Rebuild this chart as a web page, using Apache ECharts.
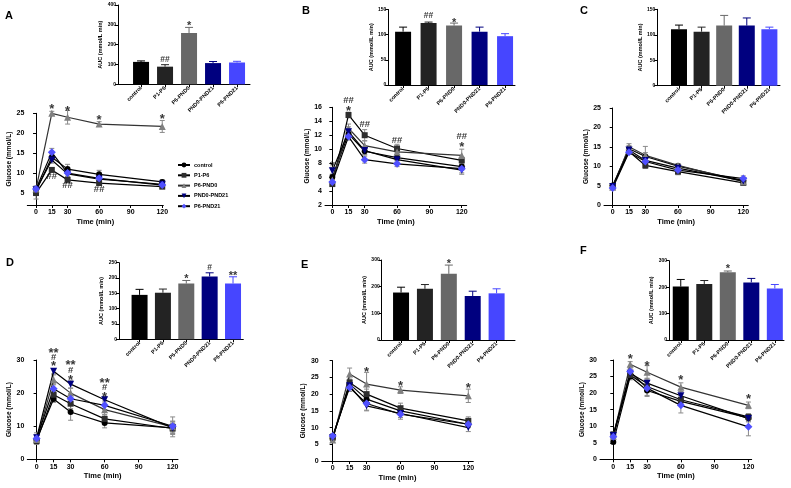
<!DOCTYPE html>
<html><head><meta charset="utf-8">
<script src="https://cdn.jsdelivr.net/npm/echarts@6/dist/echarts.min.js"></script>
<style>html,body{margin:0;padding:0;background:#fff}#c{width:791px;height:488px}</style>
</head><body><div id="c"></div>
<script>
// ---------- data ----------
const times = [0, 15, 30, 60, 120];
const timeTicks = [0, 15, 30, 60, 90, 120];
const groups = ['control', 'P1-P6', 'P6-PND0', 'PND0-PND21', 'P6-PND21'];

// Panel A
const A_mean = [[5.5,14.0,11.0,9.7,7.8],[5.0,10.8,8.3,7.5,6.6],[6.0,25.0,24.0,22.3,21.7],[5.8,13.3,9.8,8.5,7.2],[6.0,15.2,10.0,8.7,7.0]];
const A_sem  = [[0.8,0.8,1.2,1.0,0.5],[1.5,0.5,0.5,0.5,0.4],[0.5,0.5,1.7,0.6,1.5],[0.6,0.8,0.6,0.5,0.5],[0.8,1.0,0.8,0.6,0.5]];
const A_lineMarks = [[15,26.8,'*'],[30,26.2,'*'],[60,24.0,'*'],[120,24.1,'*'],[15,9.1,'##'],[30,7.0,'##'],[60,5.9,'##']];
const A_auc = [113, 89, 259, 107, 110];
const A_aucSem = [5, 10, 28, 8, 6];
const A_barMarks = [[2,126,'##'],[3,305,'*']];

// Panel B
const B_mean = [[6.0,12.2,9.7,8.8,7.5],[5.0,14.9,12.0,10.1,8.4],[5.6,13.0,10.5,9.6,9.1],[6.9,12.5,9.8,8.5,7.0],[5.3,11.8,8.5,7.9,7.2]];
const B_sem  = [[0.4,0.7,0.5,0.4,0.5],[0.3,0.4,0.8,0.6,0.5],[0.4,0.6,0.7,0.5,0.9],[0.5,0.7,0.6,0.4,0.6],[0.4,0.5,0.5,0.4,0.6]];
const B_lineMarks = [[0,8.0,'*'],[15,17.0,'##'],[15,15.85,'*'],[30,13.5,'##'],[60,11.2,'##'],[120,11.8,'##'],[120,10.6,'*']];
const B_auc = [106, 123, 118, 106, 97];
const B_aucSem = [9, 2, 5, 9, 5];
const B_barMarks = [[2,138,'##'],[3,129,'*']];

// Panel C
const C_mean = [[5.0,14.5,12.5,10.0,6.3],[4.8,13.8,10.2,8.6,5.7],[4.6,15.0,12.8,10.2,6.0],[4.8,14.2,11.5,9.5,6.2],[4.4,13.6,11.2,9.0,6.8]];
const C_sem  = [[0.3,0.8,1.0,0.6,0.5],[0.3,0.6,0.8,0.8,0.5],[0.3,0.8,2.3,0.5,0.5],[0.3,0.6,1.0,0.6,0.4],[0.3,0.5,1.0,0.6,0.7]];
const C_lineMarks = [];
const C_auc = [111, 106, 118, 118, 111];
const C_aucSem = [8, 9, 20, 15, 4];
const C_barMarks = [];

// Panel D
const D_mean = [[6.0,18.2,14.3,11.0,9.5],[5.5,19.5,16.8,12.2,9.3],[6.0,24.0,20.0,15.0,9.8],[6.5,26.6,22.7,18.0,9.5],[6.3,21.3,18.3,16.3,10.0]];
const D_sem  = [[1.0,1.0,2.5,1.5,1.5],[1.0,1.0,1.5,1.2,1.5],[1.2,1.5,1.5,1.5,3.0],[1.5,0.8,1.2,1.0,2.0],[1.2,1.5,1.5,1.3,1.5]];
const D_lineMarks = [[15,33.0,'**'],[15,30.8,'#'],[15,28.8,'*'],[30,29.2,'**'],[30,26.8,'#'],[30,24.7,'*'],[60,23.7,'**'],[60,21.7,'#'],[60,19.7,'*']];
const D_auc = [145, 152, 182, 205, 182];
const D_aucSem = [18, 12, 10, 12, 22];
const D_barMarks = [[3,204,'*'],[4,235,'#'],[5,213,'**']];

// Panel E
const E_mean = [[6.8,23.0,18.5,15.0,11.0],[7.0,23.5,20.0,15.8,12.0],[6.3,26.0,23.0,21.2,19.5],[7.0,22.5,16.5,14.2,10.0],[7.5,22.0,17.2,14.0,11.0]];
const E_sem  = [[0.7,1.0,1.5,1.2,1.0],[0.7,1.0,1.5,1.5,1.2],[0.6,1.8,3.5,1.0,2.0],[0.7,1.0,1.5,1.2,1.2],[0.7,1.2,2.0,1.5,1.0]];
const E_lineMarks = [[30,27.4,'*'],[60,23.2,'*'],[120,22.5,'*']];
const E_auc = [178, 192, 248, 165, 175];
const E_aucSem = [20, 16, 33, 18, 17];
const E_barMarks = [[3,293,'*']];

// Panel F
const F_mean = [[5.2,25.0,20.8,17.5,12.5],[7.5,25.5,22.0,18.0,12.8],[7.0,28.7,26.3,21.8,16.3],[7.2,26.0,23.0,19.2,12.3],[6.8,26.5,21.5,16.3,9.8]];
const F_sem  = [[0.5,1.0,1.5,1.2,1.0],[0.8,1.0,1.5,1.5,1.0],[0.6,0.8,2.0,1.3,1.0],[0.7,1.0,1.5,1.3,1.0],[0.7,1.0,2.5,2.3,2.7]];
const F_lineMarks = [[15,31.0,'*'],[30,28.8,'*'],[60,24.7,'*'],[120,19.1,'*']];
const F_auc = [202, 212, 256, 218, 195];
const F_aucSem = [27, 13, 5, 15, 15];
const F_barMarks = [[3,277,'*']];

// ---------- layout & style ----------
const FONT = 'Liberation Sans, Arial, Helvetica, sans-serif';
const barColors = ['#000000', '#232323', '#686868', '#00007f', '#4646ff'];
const symColors = ['#000000', '#2e2e2e', '#808080', '#000080', '#5050ff'];
const symbols = ['circle', 'rect', 'triangle', 'triangle', 'diamond'];
const symRot = [0, 0, 0, 180, 0];
const symSize = [6, 6, 7, 7, 8];

const linePanels = [
  {mean:A_mean, sem:A_sem, marks:A_lineMarks, g:[27.3,113.3,136,91.7], x:[-8.3,121], y:[2,25], yt:[5,10,15,20,25]},
  {mean:B_mean, sem:B_sem, marks:B_lineMarks, g:[325,107.3,141.7,97.7], x:[-6.8,124.6], y:[2,16], yt:[2,4,6,8,10,12,14,16]},
  {mean:C_mean, sem:C_sem, marks:C_lineMarks, g:[604,108,144.3,97], x:[-8,124.6], y:[0,25], yt:[0,5,10,15,20,25]},
  {mean:D_mean, sem:D_sem, marks:D_lineMarks, g:[27.3,360,150.7,99.3], x:[-8.2,124.7], y:[0,30], yt:[0,10,20,30]},
  {mean:E_mean, sem:E_sem, marks:E_lineMarks, g:[321.7,360.7,151.6,100.3], x:[-9.7,124.4], y:[0,30], yt:[0,5,10,15,20,25,30]},
  {mean:F_mean, sem:F_sem, marks:F_lineMarks, g:[600,360,151.7,99.3], x:[-11.8,122.9], y:[0,30], yt:[0,5,10,15,20,25,30]}
];
const barPanels = [
  {auc:A_auc, sem:A_aucSem, marks:A_barMarks, g:[118,5,132,79.3], x:[0.04,5.54], y:[0,400], yt:[0,100,200,300,400], gap:8},
  {auc:B_auc, sem:B_aucSem, marks:B_barMarks, g:[388.3,9.5,126.7,75.5], x:[0.42,5.39], y:[0,150], yt:[0,50,100,150], gap:9},
  {auc:C_auc, sem:C_aucSem, marks:C_barMarks, g:[657.3,9.3,122.7,76.4], x:[0.04,5.47], y:[0,150], yt:[0,50,100,150], gap:9},
  {auc:D_auc, sem:D_aucSem, marks:D_barMarks, g:[119,262.7,124.3,76.6], x:[0.12,5.44], y:[0,250], yt:[0,50,100,150,200,250], gap:9},
  {auc:E_auc, sem:E_aucSem, marks:E_barMarks, g:[381.7,260,133.3,80], x:[0.19,5.77], y:[0,300], yt:[0,100,200,300], gap:9},
  {auc:F_auc, sem:F_aucSem, marks:F_barMarks, g:[669,260.7,115,79.3], x:[0.5,5.39], y:[0,300], yt:[0,100,200,300], gap:9}
];

const grids = [], xAxes = [], yAxes = [], series = [];
const axLine = {show:true, lineStyle:{color:'#000', width:1}};
const axTick = (vals)=>({show:true, length:3, lineStyle:{color:'#000', width:1}, customValues:vals});
// significance mark label style: asterisks drawn larger and nudged down (glyph sits high in its box)
const markItem = (m, star, hash) => ({value:[m[0], m[1]], name:m[2],
  label: m[2].indexOf('*') >= 0 ? {fontSize:star, offset:[0, star*0.22]} : {fontSize:hash}});

linePanels.forEach((p) => {
  const gi = grids.length;
  grids.push({left:p.g[0], top:p.g[1], width:p.g[2], height:p.g[3]});
  xAxes.push({type:'value', gridIndex:gi, min:p.x[0], max:p.x[1], axisLine:axLine, axisTick:axTick(timeTicks),
    axisLabel:{customValues:timeTicks, fontSize:7, fontWeight:'bold', fontFamily:FONT, color:'#000', margin:4},
    splitLine:{show:false}, name:'Time (min)', nameLocation:'middle', nameGap:13,
    nameTextStyle:{fontSize:7.5, fontWeight:'bold', fontFamily:FONT, color:'#000'}});
  yAxes.push({type:'value', gridIndex:gi, min:p.y[0], max:p.y[1], axisLine:axLine, axisTick:axTick(p.yt),
    axisLabel:{customValues:p.yt, fontSize:7, fontWeight:'bold', fontFamily:FONT, color:'#000', margin:3},
    splitLine:{show:false}, name:'Glucose (mmol/L)', nameLocation:'middle', nameGap:14,
    nameTextStyle:{fontSize:6.5, fontWeight:'bold', fontFamily:FONT, color:'#000'}});
  // error bars
  const errData = [];
  p.mean.forEach((arr, k) => arr.forEach((v, j) => errData.push([times[j], v, p.sem[k][j]])));
  series.push({type:'custom', name:'sem', xAxisIndex:gi, yAxisIndex:gi, z:1, clip:false, silent:true,
    data:errData,
    renderItem:(params, api) => {
      const t = api.value(0), m = api.value(1), e = api.value(2);
      const lo = api.coord([t, m - e]), hi = api.coord([t, m + e]);
      const st = {stroke:'#8a8a8a', lineWidth:1};
      return {type:'group', children:[
        {type:'line', shape:{x1:lo[0], y1:lo[1], x2:hi[0], y2:hi[1]}, style:st},
        {type:'line', shape:{x1:lo[0]-2.5, y1:lo[1], x2:lo[0]+2.5, y2:lo[1]}, style:st},
        {type:'line', shape:{x1:hi[0]-2.5, y1:hi[1], x2:hi[0]+2.5, y2:hi[1]}, style:st}
      ]};
    }});
  p.mean.forEach((arr, k) => {
    series.push({type:'line', name:groups[k], xAxisIndex:gi, yAxisIndex:gi, z:2,
      data:arr.map((v, j) => [times[j], v]),
      symbol:symbols[k], symbolRotate:symRot[k], symbolSize:symSize[k], showAllSymbol:true,
      lineStyle:{color:k===2?'#333':'#000', width:1.2}, itemStyle:{color:symColors[k]}});
  });
  series.push({type:'scatter', name:'sig', xAxisIndex:gi, yAxisIndex:gi, z:5, clip:false, silent:true,
    symbolSize:0,
    data:p.marks.map(m => markItem(m, 13, 9.5)),
    label:{show:true, position:'inside', formatter:'{b}', color:'#000', fontFamily:FONT, fontWeight:'bold', fontSize:9}});
});

barPanels.forEach((p) => {
  const gi = grids.length;
  grids.push({left:p.g[0], top:p.g[1], width:p.g[2], height:p.g[3]});
  xAxes.push({type:'value', gridIndex:gi, min:p.x[0], max:p.x[1], axisLine:axLine, axisTick:axTick([1,2,3,4,5]),
    axisLabel:{customValues:[1,2,3,4,5], formatter:(v)=>groups[Math.round(v)-1] || '', rotate:45,
      fontSize:5.5, fontWeight:'bold', fontFamily:FONT, color:'#000', margin:3},
    splitLine:{show:false}});
  yAxes.push({type:'value', gridIndex:gi, min:p.y[0], max:p.y[1], axisLine:axLine, axisTick:axTick(p.yt),
    axisLabel:{customValues:p.yt, fontSize:5, fontWeight:'bold', fontFamily:FONT, color:'#000', margin:2},
    splitLine:{show:false}, name:'AUC (mmol/L min)', nameLocation:'middle', nameGap:p.gap,
    nameTextStyle:{fontSize:5.5, fontWeight:'bold', fontFamily:FONT, color:'#000'}});
  series.push({type:'bar', name:'AUC', xAxisIndex:gi, yAxisIndex:gi, barWidth:16, z:2,
    data:p.auc.map((v, i) => ({value:[i+1, v], itemStyle:{color:barColors[i]}}))});
  series.push({type:'custom', name:'AUC sem', xAxisIndex:gi, yAxisIndex:gi, z:3, clip:false, silent:true,
    data:p.auc.map((v, i) => ({value:[i+1, v, p.sem[i]], itemStyle:{color:barColors[i]}})),
    renderItem:(params, api) => {
      const x = api.value(0), m = api.value(1), e = api.value(2);
      const lo = api.coord([x, m]), hi = api.coord([x, m + e]);
      const st = {stroke:api.visual('color'), lineWidth:1};
      return {type:'group', children:[
        {type:'line', shape:{x1:lo[0], y1:lo[1], x2:hi[0], y2:hi[1]}, style:st},
        {type:'line', shape:{x1:hi[0]-4, y1:hi[1], x2:hi[0]+4, y2:hi[1]}, style:st}
      ]};
    }});
  series.push({type:'scatter', name:'sig', xAxisIndex:gi, yAxisIndex:gi, z:5, clip:false, silent:true,
    symbolSize:0,
    data:p.marks.map(m => markItem(m, 11, 8.5)),
    label:{show:true, position:'inside', formatter:'{b}', color:'#000', fontFamily:FONT, fontWeight:'bold', fontSize:8}});
});

const letters = [['A',5,10],['B',302,5],['C',580,5],['D',6,257],['E',301,259],['F',580,245]];

const chart = echarts.init(document.getElementById('c'), null, {renderer:'canvas'});
chart.setOption({
  animation:false,
  backgroundColor:'#fff',
  grid:grids, xAxis:xAxes, yAxis:yAxes, series:series,
  legend:{data:groups, orient:'vertical', left:172, top:157, itemWidth:12, itemHeight:6, itemGap:4.3,
    textStyle:{fontSize:5.5, fontWeight:'bold', fontFamily:FONT, color:'#000', padding:[0,0,0,-1]}, selectedMode:false},
  graphic:letters.map(l => ({type:'text', left:l[1], top:l[2],
    style:{text:l[0], font:'bold 11px ' + FONT, fill:'#000'}}))
});
</script></body></html>
